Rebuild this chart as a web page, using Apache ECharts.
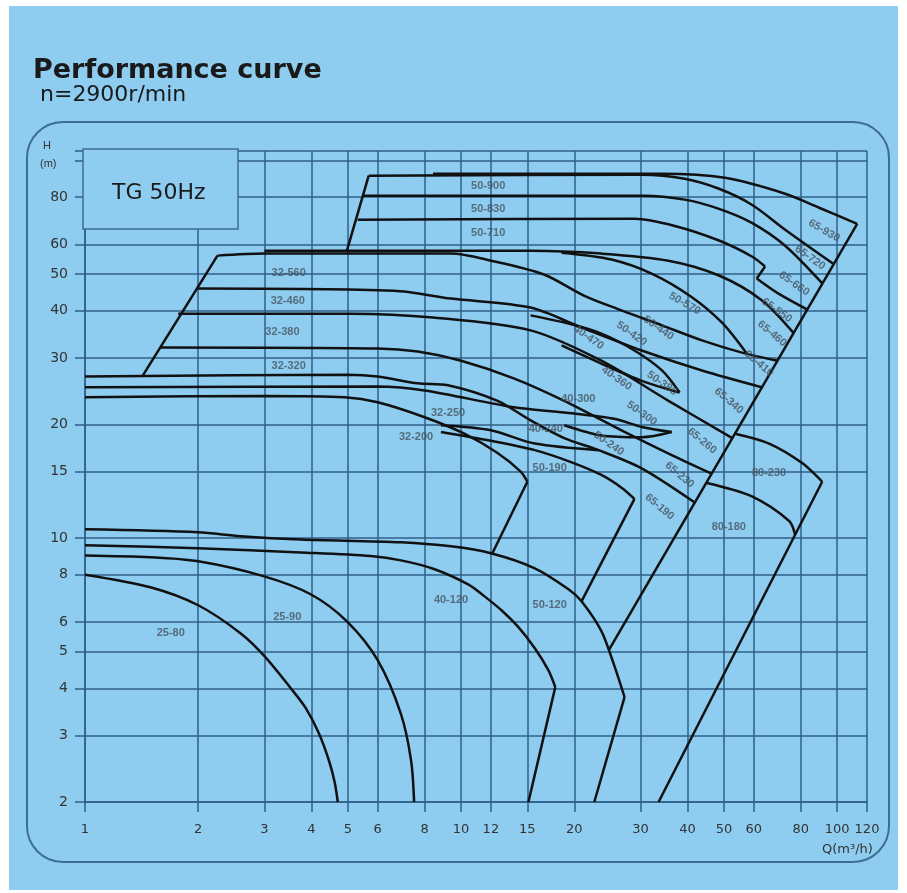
<!DOCTYPE html>
<html><head><meta charset="utf-8">
<script src="https://cdn.jsdelivr.net/npm/echarts@6/dist/echarts.min.js"></script>
<style>html,body{margin:0;padding:0;background:#fff;}#c{width:907px;height:893px;}</style>
</head><body><div id="c"></div>
<script>
// axis ticks
const xTicks=[1,2,3,4,5,6,8,10,12,15,20,30,40,50,60,80,100,120];
const yTicks=[2,3,4,5,6,8,10,15,20,30,40,50,60,80,100,106];
const yLabels=[2,3,4,5,6,8,10,15,20,30,40,50,60,80];

// pump curves [Q m3/h, H m]
const c25_80=[[1,8],[1.5,7.4],[2,6.64],[2.59,5.6],[3,4.87],[3.52,4.01],[3.86,3.55],[4.18,3.05],[4.45,2.58],[4.61,2.26],[4.7,2]];
const c25_90=[[1,9],[1.49,8.9],[2,8.68],[2.98,7.93],[3.98,7.1],[4.97,6.02],[6,4.75],[6.92,3.42],[7.36,2.58],[7.5,2]];
const c40_120=[[1,9.57],[2,9.4],[3.75,9.16],[5.75,8.96],[6.92,8.73],[8.47,8.28],[10.44,7.54],[11.5,7.03],[12.8,6.44],[14.2,5.81],[15.7,5.11],[17.06,4.47],[17.8,4.03]];
const e40_120=[[17.8,4.03],[15.1,2]];
const c50_120=[[1,10.55],[2,10.36],[2.59,10.12],[3.75,9.92],[6.92,9.75],[9.4,9.51],[12,9.12],[15.7,8.32],[19.3,7.32],[20.9,6.8],[23.6,5.67],[25.4,4.67],[27.2,3.79]];
const e50_120=[[27.2,3.79],[22.6,2]];
const c32_200=[[1,23.6],[3.05,23.8],[4.9,23.6],[6,22.9],[8,20.9],[10.2,18.9],[12.5,16.8],[14.4,15.0],[15,14.1]];
const e32_200=[[15,14.1],[12.1,9.1]];
const c32_250=[[1,25.1],[6,25.2],[8,24.6],[13.8,22.2],[18.8,21.5],[25.5,20.7],[30.2,19.7],[36.3,19.1]];
const c65_190=[[1,26.8],[5,27.1],[6,26.8],[7.67,25.7],[9.23,25.4],[12.5,23.1],[15.3,20.5],[18.8,18.4],[23.2,17.1],[30.2,15.3],[41.9,12.4]];
const e32L=[[1.42,26.8],[2.25,56]];
const c32_320=[[1.585,32],[6,31.8],[7.67,31.2],[10,29.5],[13.8,26.5],[18.8,23.1],[26.7,19.3],[36.3,16.6],[46.5,14.8]];
const c32_380=[[1.77,39.3],[5.09,39.3],[8.42,38.4],[15.3,35.5],[23.6,29.5],[35.6,23.1],[52.6,18.4]];
const c32_460=[[1.98,45.8],[6.62,45.2],[9.4,43.1],[15.3,40.8],[20.9,36.1],[30.2,31.4],[43.7,27.8],[63,25.1]];
const c32_560=[[2.25,56],[3,56.7],[9.4,56.7],[12,54.3],[16.6,49.9],[21.2,43.9],[26.7,40.1],[34.2,36.6],[43.7,33.4],[55.8,31],[69.4,29.5]];
const c58=[[3,57.7],[15.3,57.7],[23.6,56.7],[35.6,54.3],[48.5,49.6],[63.1,42.6],[76.8,34.8]];
const c50_570=[[18.5,57],[25.1,54.7],[32.1,50.2],[40.9,43.6],[49.4,37.2],[57.5,30.8]];
const e50L=[[4.97,57.7],[5.68,91.2]];
const c50_900=[[5.68,91.2],[30.2,91.7],[39.3,89.5],[48.5,84.2],[59.3,76.4],[72.7,65.6],[97.6,53.3]];
const c65_930=[[8.42,92.3],[34.2,92.3],[50.3,90],[72.7,81.7],[89.5,75],[113,68]];
const c50_830=[[5.51,80.7],[30.6,80.7],[39.3,78.8],[48.5,74.5],[59.3,68.4],[72.7,59.5],[91.4,47.2]];
const c50_710=[[5.31,69.7],[28.9,70.1],[36.8,67.2],[48.5,61.4],[59.3,55.7],[64.3,52.4]];
const e50_710=[[64.3,52.4],[61.1,48.7]];
const c65_550=[[61.1,48.7],[69.1,44.7],[83.3,40.3]];
const c40_470=[[15.3,38.9],[19.3,37.0],[23.6,34.8],[28.9,31.4],[34.2,27.8],[38.1,24.3]];
const c40_360=[[18.5,32.4],[23.6,29.0],[30.2,26.1],[38.1,24.3]];
const c50_300=[[18.8,19.9],[23.6,18.7],[30.2,18.5],[36.3,19.1]];
const c40_240=[[8.84,19.9],[12,19.3],[15.7,17.8],[23.2,17.1]];
const c50_190=[[8.84,19.1],[12,18.1],[15.7,17.1],[19.6,15.9],[23.6,14.7],[26.7,13.6],[28.9,12.7]];
const e50_190=[[28.9,12.7],[20.9,6.8]];
const c80_230=[[53.5,18.9],[65.9,17.8],[80.7,15.8],[91.2,14.1]];
const c80_180=[[45,14.0],[59.3,12.9],[74.5,11.1],[77.3,10.2]];
const e80=[[91.2,14.1],[33.5,2]];
const e65=[[113,68],[24.7,5.05]];

// curve labels [Q, H, text, rotation]
const curveLabels=[
 [11.8,85.8,'50-900',0],[11.8,74.5,'50-830',0],[11.8,64.4,'50-710',0],
 [3.48,50.5,'32-560',0],[3.46,42.6,'32-460',0],[3.35,35.1,'32-380',0],[3.48,28.6,'32-320',0],
 [9.23,21.5,'32-250',0],[7.59,18.5,'32-200',0],[20.5,23.4,'40-300',0],[16.8,19.5,'40-240',0],
 [17.2,15.3,'50-190',0],[24.7,17.8,'50-240',-35],[25.9,26.5,'40-360',-35],[21.8,34.0,'40-470',-35],
 [28.4,34.8,'50-420',-35],[33.5,36.0,'50-440',-35],[39.3,41.8,'50-570',-30],
 [92.3,65.2,'65-930',-30],[84.7,55.3,'65-720',-35],[76.8,47.2,'65-660',-35],[69.1,40.1,'65-550',-35],
 [67.1,34.8,'65-460',-40],[61.9,29.0,'65-410',-40],[51.5,23.1,'65-340',-40],[43.7,18.1,'65-260',-40],
 [38.1,14.7,'65-230',-40],[33.7,12.1,'65-190',-40],[34.2,25.7,'50-380',-35],[30.2,21.4,'50-300',-35],
 [65.9,14.9,'80-230',0],[51.5,10.7,'80-180',0],[17.2,6.64,'50-120',0],[9.4,6.85,'40-120',0],
 [3.45,6.2,'25-90',0],[1.69,5.6,'25-80',0]
];

const curves=[
 [c25_80,true],[c25_90,true],[c40_120,true],[e40_120,false],[c50_120,true],[e50_120,false],
 [c32_200,true],[e32_200,false],[c32_250,true],[c65_190,true],[e32L,false],[c32_320,true],
 [c32_380,true],[c32_460,true],[c32_560,true],[c58,true],[c50_570,true],[e50L,false],[c50_900,true],
 [c65_930,true],[c50_830,true],[c50_710,true],[e50_710,false],[c65_550,true],[c40_470,true],
 [c40_360,true],[c50_300,true],[c40_240,true],[c50_190,true],[e50_190,false],[c80_230,true],
 [c80_180,true],[e80,false],[e65,false]
];

const BG='#8ecdf0', GRIDC='#2f5f88', TXT='#333';
const series=curves.map(([d,s])=>({type:'line',data:d,smooth:s?0.3:false,showSymbol:false,
  lineStyle:{color:'#111',width:2.5},z:3,silent:true}));
series.push({type:'scatter',symbolSize:0,z:4,silent:true,
  data:curveLabels.map(l=>({value:[l[0],l[1]],name:l[2],label:{rotate:l[3]}})),
  label:{show:true,position:'inside',formatter:p=>p.name,fontSize:11,fontWeight:'bold',
    color:'#46535f',fontFamily:'Liberation Sans'}});

const chart=echarts.init(document.getElementById('c'),null,{renderer:'canvas'});
chart.setOption({
 animation:false,
 backgroundColor:'#fff',
 grid:{left:85,right:40,top:151,bottom:91,show:false},
 xAxis:{type:'log',logBase:10,min:1,max:120,
  axisLine:{show:true,lineStyle:{color:GRIDC,width:1.5}},
  axisTick:{show:true,customValues:xTicks,length:10,lineStyle:{color:GRIDC,width:1.5}},
  axisLabel:{show:true,customValues:xTicks,margin:21,fontSize:13,color:TXT,fontFamily:'DejaVu Sans'},
  splitLine:{show:true,lineStyle:{color:GRIDC,width:1.5}},minorTick:{show:false}},
 yAxis:{type:'log',logBase:10,min:2,max:106,
  axisLine:{show:true,lineStyle:{color:GRIDC,width:1.5}},
  axisTick:{show:true,customValues:yTicks,length:10,lineStyle:{color:GRIDC,width:1.5}},
  axisLabel:{show:true,customValues:yLabels,margin:17,fontSize:14,color:TXT,fontFamily:'DejaVu Sans'},
  splitLine:{show:true,lineStyle:{color:GRIDC,width:1.5}}},
 graphic:[
  {type:'rect',z:-10,silent:true,shape:{x:9,y:6,width:889,height:884},style:{fill:BG}},
  {type:'rect',z:-9,silent:true,shape:{x:27,y:122,width:862,height:740,r:36},style:{fill:'none',stroke:'#3f6c92',lineWidth:2}},
  {type:'text',z:10,left:33,top:57,style:{text:'Performance curve',font:'bold 27px "DejaVu Sans"',fill:'#1a1a1a'}},
  {type:'text',z:10,left:40,top:84,style:{text:'n=2900r/min',font:'22px "DejaVu Sans"',fill:'#1a1a1a'}},
  {type:'rect',z:10,silent:true,shape:{x:83,y:149,width:155,height:80},style:{fill:BG,stroke:'#3f6c92',lineWidth:1.5}},
  {type:'text',z:11,left:112,top:182,style:{text:'TG 50Hz',font:'22px "DejaVu Sans"',fill:'#1a1a1a'}},
  {type:'text',z:10,left:43,top:140,style:{text:'H',font:'11px "Liberation Sans"',fill:TXT}},
  {type:'text',z:10,left:40,top:158,style:{text:'(m)',font:'11px "Liberation Sans"',fill:TXT}},
  {type:'text',z:10,left:822,top:843,style:{text:'Q(m³/h)',font:'13px "DejaVu Sans"',fill:TXT}}
 ],
 series:series
});
</script></body></html>
